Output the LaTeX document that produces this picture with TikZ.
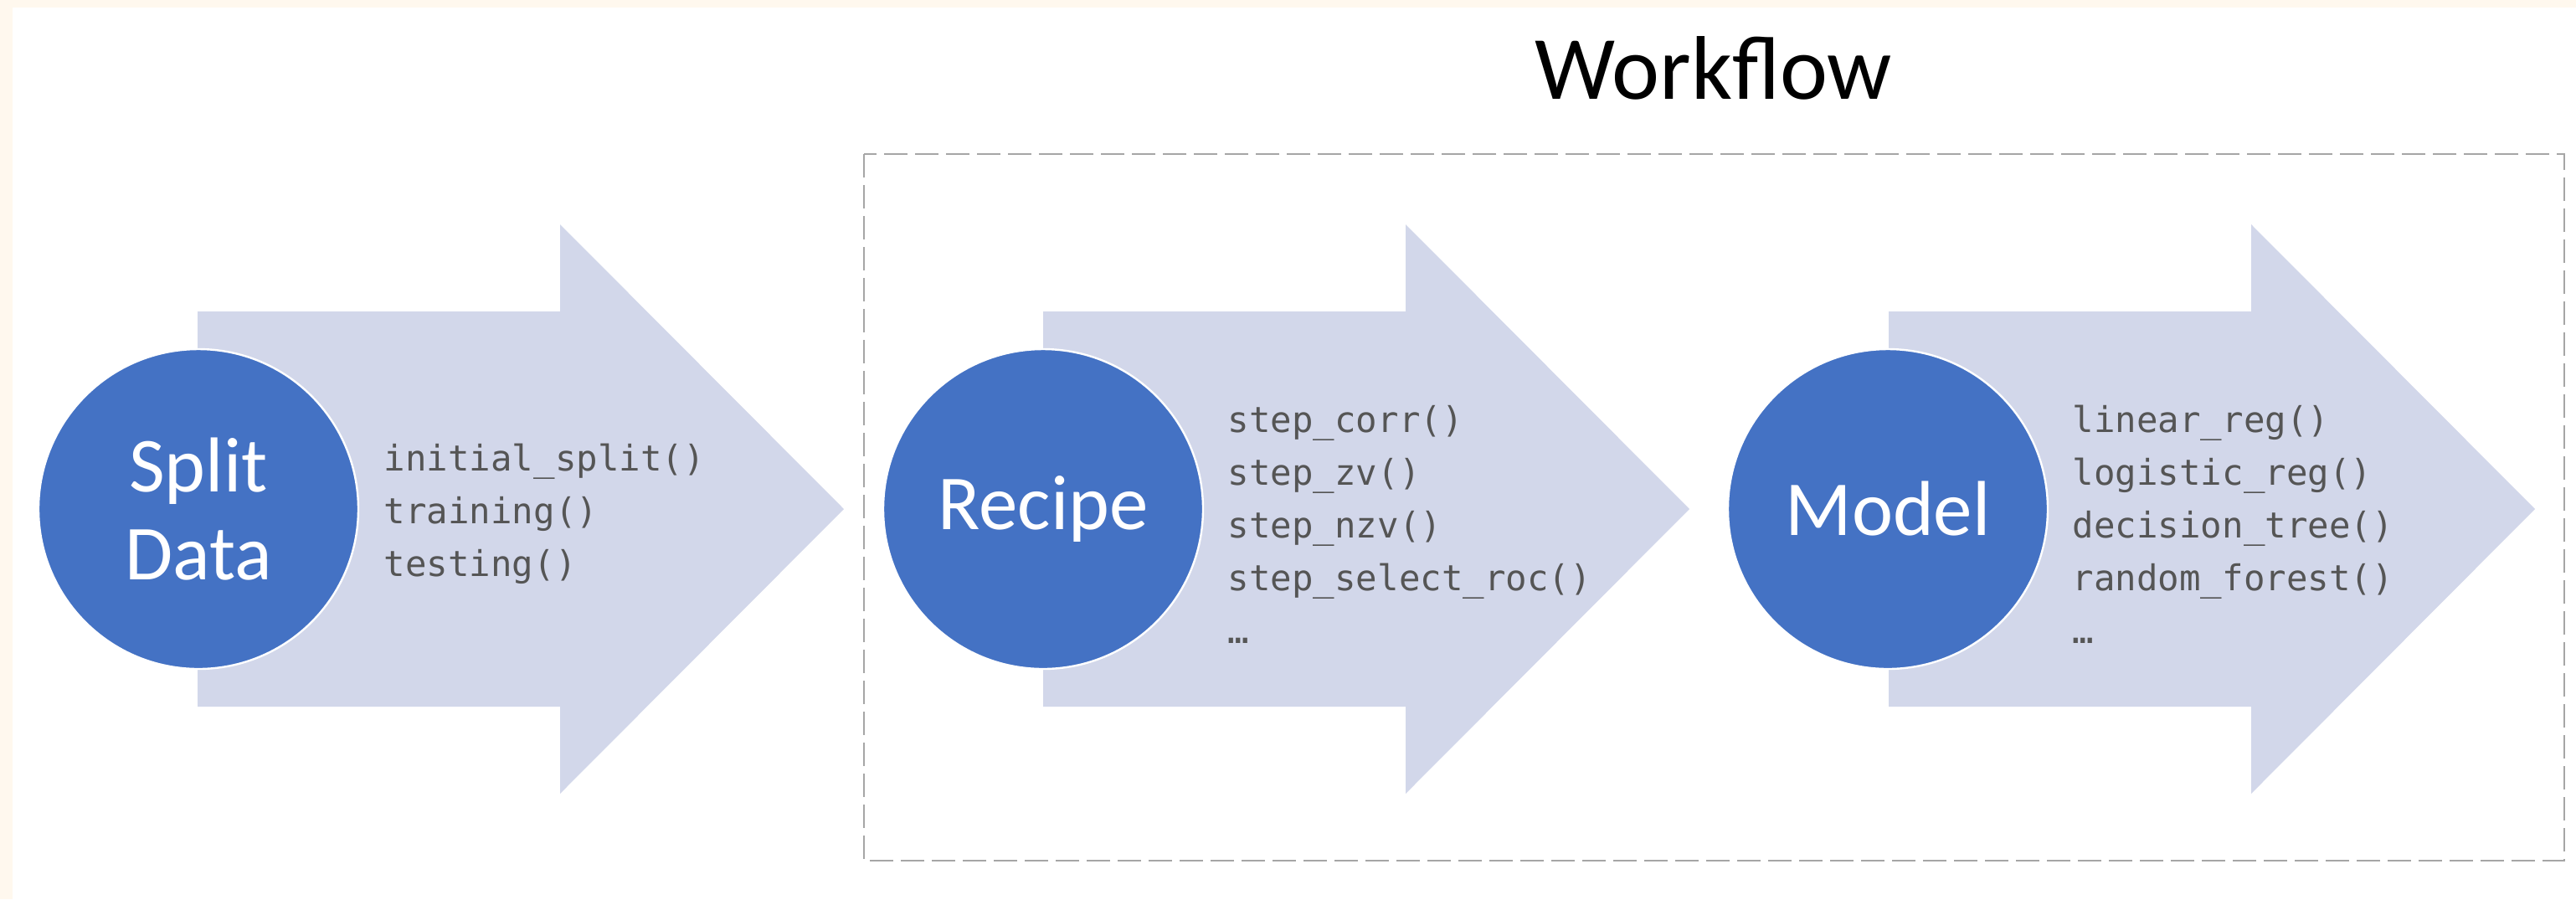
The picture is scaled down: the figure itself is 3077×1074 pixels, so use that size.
\documentclass[tikz,border=0pt]{standalone}
\usepackage{fontspec}
\setmainfont{Carlito}
\newfontfamily\codefont{DejaVu Sans Mono}
\definecolor{circblue}{HTML}{4472C4}
\definecolor{arrowfill}{HTML}{D2D7EA}
\definecolor{codegray}{HTML}{555555}
\definecolor{dashgray}{HTML}{A6A6A6}
\definecolor{cream}{HTML}{FFF8EE}
\tikzset{
  bigarrow/.style={fill=arrowfill},
  stage/.style={circle, fill=circblue, draw=white, line width=0.6pt,
    minimum size=95.5pt, inner sep=0pt, text=white, align=center,
    font=\fontsize{23.25}{26.25}\selectfont},
  code/.style={anchor=base west, inner sep=0pt, text=codegray,
    font=\codefont\fontsize{10.6}{12}\selectfont},
  wfbox/.style={draw=dashgray, line width=0.5pt, dash pattern=on 7pt off 2.25pt},
  titletext/.style={anchor=base, inner sep=0pt, text=black,
    font=\fontsize{27}{30}\selectfont}
}
\begin{document}
\begin{tikzpicture}[x=0.25pt, y=-0.25pt]
  \useasboundingbox (0,0) rectangle (3077,1074);
  \fill[white] (0,0) rectangle (3077,1074);
  \fill[cream] (0,0) rectangle (3077,9);
  \fill[cream] (0,0) rectangle (15,1074);

  % dashed workflow frame
  \draw[wfbox] (1032,184) rectangle (3063,1028);
  \node[titletext] (title) at (2047,118) {Workflow};

  % block arrows
  \foreach \x in {236,1246,2256}
    \fill[bigarrow] (\x,372) -- (\x+433,372) -- (\x+433,268) -- (\x+772,608)
      -- (\x+433,948) -- (\x+433,844) -- (\x,844) -- cycle;

  % stage circles
  \node[stage] (split)  at (237,608)  {Split\\Data};
  \node[stage] (recipe) at (1246,608) {Recipe};
  \node[stage] (model)  at (2255,608) {Model};

  % function lists
  \foreach \t [count=\i] in {initial\_split(), training(), testing()}
    \node[code] (sd\i) at (458, 562+63*\i-63) {\t};
  \foreach \t [count=\i] in {step\_corr(), step\_zv(), step\_nzv(), step\_select\_roc(), …}
    \node[code] (rc\i) at (1466, 516+63*\i-63) {\t};
  \foreach \t [count=\i] in {linear\_reg(), logistic\_reg(), decision\_tree(), random\_forest(), …}
    \node[code] (md\i) at (2475, 516+63*\i-63) {\t};
\end{tikzpicture}
\end{document}
